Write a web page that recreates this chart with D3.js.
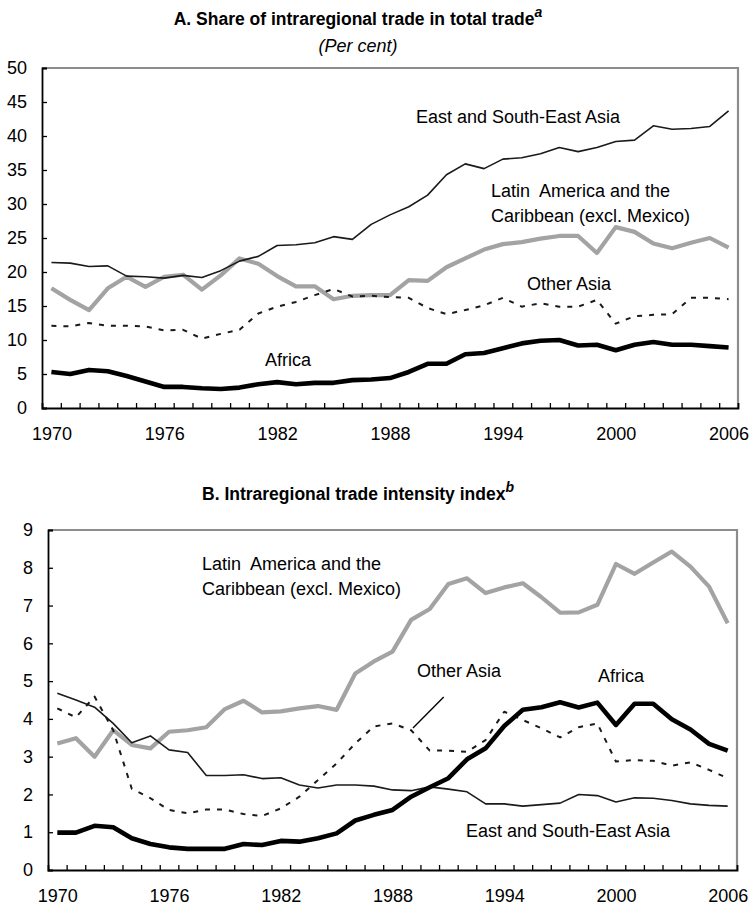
<!DOCTYPE html>
<html>
<head>
<meta charset="utf-8">
<script src="https://cdn.jsdelivr.net/npm/d3@7"></script>
<style>
  body { margin: 0; background: #fff; }
  svg text { font-family: "Liberation Sans", Arial, sans-serif; }
</style>
</head>
<body>
<svg id="chart" width="753" height="909"></svg>
<script>
// years on the x axis
var years = [1970, 1971, 1972, 1973, 1974, 1975, 1976, 1977, 1978, 1979,
             1980, 1981, 1982, 1983, 1984, 1985, 1986, 1987, 1988, 1989,
             1990, 1991, 1992, 1993, 1994, 1995, 1996, 1997, 1998, 1999,
             2000, 2001, 2002, 2003, 2004, 2005, 2006];
var yearLabels = [1970, 1976, 1982, 1988, 1994, 2000, 2006];

// panel A: share of intraregional trade (per cent)
var eastA = [21.4, 21.3, 20.8, 20.9, 19.4, 19.3, 19.1, 19.5, 19.2, 20.2,
             21.6, 22.3, 23.9, 24.0, 24.3, 25.2, 24.8, 27.0, 28.4, 29.6,
             31.3, 34.3, 35.9, 35.2, 36.6, 36.8, 37.4, 38.3, 37.7, 38.3,
             39.2, 39.4, 41.5, 41.0, 41.1, 41.4, 43.7];
var latinA = [17.6, 15.9, 14.4, 17.6, 19.3, 17.8, 19.3, 19.6, 17.4, 19.5,
              22.0, 21.2, 19.4, 17.9, 17.9, 16.0, 16.5, 16.6, 16.6, 18.8,
              18.7, 20.7, 22.0, 23.3, 24.1, 24.4, 24.9, 25.3, 25.3, 22.8,
              26.6, 25.9, 24.2, 23.5, 24.3, 25.0, 23.6];
var otherA = [12.1, 12.0, 12.5, 12.1, 12.1, 12.0, 11.4, 11.5, 10.2, 10.9,
              11.5, 13.9, 14.9, 15.6, 16.6, 17.5, 16.4, 16.5, 16.3, 16.2,
              14.7, 13.8, 14.4, 15.1, 16.2, 14.9, 15.4, 14.9, 14.9, 15.9,
              12.4, 13.5, 13.7, 13.8, 16.2, 16.2, 16.0];
var africaA = [5.3, 5.0, 5.6, 5.4, 4.7, 3.9, 3.1, 3.1, 2.9, 2.8,
               3.0, 3.5, 3.8, 3.5, 3.7, 3.7, 4.1, 4.2, 4.4, 5.3,
               6.5, 6.5, 7.9, 8.1, 8.8, 9.5, 9.9, 10.0, 9.2, 9.3,
               8.5, 9.3, 9.7, 9.3, 9.3, 9.1, 8.9];
var ticksA = [0, 5, 10, 15, 20, 25, 30, 35, 40, 45, 50];

// panel B: intraregional trade intensity index
var eastB = [4.68, 4.5, 4.31, 3.88, 3.37, 3.55, 3.18, 3.11, 2.5, 2.5,
             2.52, 2.42, 2.44, 2.25, 2.17, 2.25, 2.25, 2.22, 2.12, 2.1,
             2.2, 2.14, 2.07, 1.75, 1.75, 1.69, 1.73, 1.77, 2.0, 1.97,
             1.8, 1.91, 1.9, 1.84, 1.75, 1.71, 1.69];
var latinB = [3.35, 3.49, 3.0, 3.7, 3.31, 3.22, 3.66, 3.7, 3.78, 4.26,
              4.48, 4.17, 4.2, 4.28, 4.34, 4.24, 5.2, 5.52, 5.78, 6.62,
              6.91, 7.57, 7.72, 7.33, 7.48, 7.59, 7.22, 6.81, 6.82, 7.02,
              8.1, 7.84, 8.14, 8.43, 8.03, 7.5, 6.53];
var otherB = [4.28, 4.04, 4.59, 3.7, 2.15, 1.9, 1.59, 1.5, 1.6, 1.6,
              1.48, 1.43, 1.63, 1.94, 2.38, 2.82, 3.35, 3.8, 3.88, 3.7,
              3.16, 3.16, 3.13, 3.44, 4.19, 3.97, 3.75, 3.51, 3.78, 3.88,
              2.87, 2.91, 2.89, 2.76, 2.85, 2.65, 2.43];
var africaB = [0.99, 0.99, 1.17, 1.13, 0.84, 0.69, 0.6, 0.56, 0.56, 0.56,
               0.69, 0.66, 0.77, 0.75, 0.84, 0.97, 1.31, 1.46, 1.59, 1.94,
               2.19, 2.43, 2.93, 3.22, 3.81, 4.24, 4.31, 4.44, 4.3, 4.43,
               3.84, 4.4, 4.4, 3.99, 3.72, 3.34, 3.16];
var ticksB = [0, 1, 2, 3, 4, 5, 6, 7, 8, 9];

var svg = d3.select("#chart");
var fontSize = 18;

// series styles, drawn in this order
var styles = {
    latin:  { stroke: "#a3a3a3", width: 4.2, dash: null },
    east:   { stroke: "#1a1a1a", width: 1.6, dash: null },
    other:  { stroke: "#1a1a1a", width: 2,   dash: "5,7" },
    africa: { stroke: "#000",    width: 4.6, dash: null }
};

function drawPanel(p) {
    var x = d3.scaleLinear().domain([1969.5, 2006.5]).range([p.left, p.right]);
    var y = d3.scaleLinear().domain([0, p.ymax]).range([p.bottom, p.top]);

    var g = svg.append("g");

    // title
    var t = g.append("text")
        .attr("x", p.titleX).attr("y", p.titleY)
        .attr("text-anchor", "middle")
        .style("font-size", "17.5px").style("font-weight", "bold")
        .text(p.title);
    t.append("tspan").attr("dy", -8).style("font-size", "14px")
        .style("font-style", "italic").text(p.sup);
    if (p.subtitle) {
        g.append("text")
            .attr("x", p.titleX).attr("y", p.titleY + 27)
            .attr("text-anchor", "middle")
            .style("font-size", fontSize + "px").style("font-style", "italic")
            .text(p.subtitle);
    }

    // grey frame on top and right
    g.append("path")
        .attr("d", "M" + p.left + "," + p.top + "H" + p.right + "V" + p.bottom)
        .attr("fill", "none").attr("stroke", "#8c8c8c").attr("stroke-width", 2.2);

    // lines
    var line = d3.line()
        .x(function(d, i) { return x(years[i]); })
        .y(function(d) { return y(d); });
    p.series.forEach(function(s) {
        var st = styles[s.key];
        g.append("path")
            .datum(s.values)
            .attr("d", line)
            .attr("fill", "none")
            .attr("stroke", st.stroke)
            .attr("stroke-width", st.width)
            .attr("stroke-linejoin", "round")
            .attr("stroke-dasharray", st.dash);
    });

    // y axis, inward ticks
    var yAxis = g.append("g")
        .attr("transform", "translate(" + p.left + ",0)")
        .call(d3.axisLeft(y).tickValues(p.yticks).tickSize(-5).tickPadding(15));
    // x axis: ticks on year boundaries, labels on year centres
    var bounds = years.slice(1).map(function(d) { return d - 0.5; });
    var xAxis = g.append("g")
        .attr("transform", "translate(0," + p.bottom + ")")
        .call(d3.axisBottom(x).tickValues(bounds).tickSize(-5).tickFormat(""));
    var xLab = g.append("g")
        .attr("transform", "translate(0," + p.bottom + ")")
        .call(d3.axisBottom(x).tickValues(yearLabels).tickSize(0).tickPadding(19)
              .tickFormat(d3.format("d")));
    xLab.select(".domain").remove();

    [yAxis, xAxis, xLab].forEach(function(a) {
        a.selectAll("text").style("font-size", fontSize + "px").attr("fill", "#000");
        a.selectAll("line").attr("stroke", "#000").attr("stroke-width", 1.3);
        a.select(".domain").attr("stroke", "#000").attr("stroke-width", 1.8);
    });

    // series labels
    p.labels.forEach(function(l) {
        var tx = g.append("text")
            .attr("x", l.x).attr("y", l.y)
            .style("font-size", fontSize + "px")
            .style("white-space", "pre")
            .attr("xml:space", "preserve");
        l.lines.forEach(function(s, i) {
            tx.append("tspan").attr("x", l.x).attr("dy", i === 0 ? 0 : 25).text(s);
        });
    });

    // leader line
    if (p.leader) {
        g.append("line")
            .attr("x1", x(p.leader[0][0])).attr("y1", y(p.leader[0][1]))
            .attr("x2", x(p.leader[1][0])).attr("y2", y(p.leader[1][1]))
            .attr("stroke", "#000").attr("stroke-width", 1.4);
    }
}

drawPanel({
    left: 42, right: 738, top: 68, bottom: 408, ymax: 50, yticks: ticksA,
    title: "A. Share of intraregional trade in total trade", sup: "a",
    subtitle: "(Per cent)", titleX: 358, titleY: 25,
    series: [
        { key: "latin", values: latinA },
        { key: "east", values: eastA },
        { key: "other", values: otherA },
        { key: "africa", values: africaA }
    ],
    labels: [
        { x: 416, y: 123, lines: ["East and South-East Asia"] },
        { x: 491, y: 197, lines: ["Latin  America and the", "Caribbean (excl. Mexico)"] },
        { x: 527, y: 290, lines: ["Other Asia"] },
        { x: 265, y: 366, lines: ["Africa"] }
    ]
});

drawPanel({
    left: 48, right: 737, top: 530, bottom: 870, ymax: 9, yticks: ticksB,
    title: "B. Intraregional trade intensity index", sup: "b",
    subtitle: null, titleX: 358, titleY: 500,
    series: [
        { key: "latin", values: latinB },
        { key: "east", values: eastB },
        { key: "other", values: otherB },
        { key: "africa", values: africaB }
    ],
    labels: [
        { x: 202, y: 570, lines: ["Latin  America and the", "Caribbean (excl. Mexico)"] },
        { x: 417, y: 677, lines: ["Other Asia"] },
        { x: 598, y: 682, lines: ["Africa"] },
        { x: 466, y: 837, lines: ["East and South-East Asia"] }
    ],
    leader: [[1989.1, 3.76], [1990.75, 4.58]]
});
</script>
</body>
</html>
